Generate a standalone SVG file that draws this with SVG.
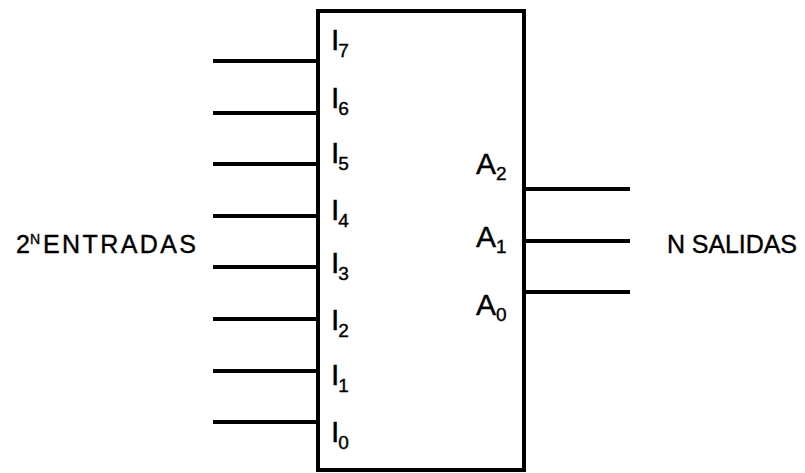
<svg xmlns="http://www.w3.org/2000/svg" width="805" height="473" viewBox="0 0 805 473">
  <style>
    .wire { stroke: #000; stroke-width: 4; fill: none; }
    .box { stroke: #000; stroke-width: 4; fill: #fff; }
    .lbl { font-family: "Liberation Sans", Arial, sans-serif; font-size: 30px; fill: #000; stroke: #000; stroke-width: 0.4; }
    .sub { font-size: 19px; }
    .side { font-family: "Liberation Sans", Arial, sans-serif; font-size: 25px; fill: #000; stroke: #000; stroke-width: 0.4; }
    .sup { font-size: 14px; }
  </style>
  <g id="encoder">
    <rect class="box" x="318" y="11" width="206" height="459"/>
    <text class="lbl" x="331" y="50">I<tspan class="sub" dx="-1" dy="7">7</tspan></text>
    <text class="lbl" x="331" y="108">I<tspan class="sub" dx="-1" dy="7">6</tspan></text>
    <text class="lbl" x="331" y="163">I<tspan class="sub" dx="-1" dy="7">5</tspan></text>
    <text class="lbl" x="331" y="220">I<tspan class="sub" dx="-1" dy="7">4</tspan></text>
    <text class="lbl" x="331" y="273">I<tspan class="sub" dx="-1" dy="7">3</tspan></text>
    <text class="lbl" x="331" y="330">I<tspan class="sub" dx="-1" dy="7">2</tspan></text>
    <text class="lbl" x="331" y="385">I<tspan class="sub" dx="-1" dy="7">1</tspan></text>
    <text class="lbl" x="331" y="442">I<tspan class="sub" dx="-1" dy="7">0</tspan></text>
    <text class="lbl" x="476" y="174">A<tspan class="sub" dy="6">2</tspan></text>
    <text class="lbl" x="476" y="247">A<tspan class="sub" dy="6">1</tspan></text>
    <text class="lbl" x="476" y="315">A<tspan class="sub" dy="6">0</tspan></text>
  </g>
  <g id="inputs-label">
    <text class="side" x="16" y="253">2<tspan class="sup" dy="-9">N</tspan></text>
    <text class="side" x="43" y="253" textLength="153" lengthAdjust="spacing">ENTRADAS</text>
  </g>
  <g id="outputs-label">
    <text class="side" x="667" y="253" textLength="130" lengthAdjust="spacing">N SALIDAS</text>
  </g>
  <g id="connectors">
    <line class="wire" x1="213" y1="61" x2="318" y2="61"/>
    <line class="wire" x1="213" y1="113" x2="318" y2="113"/>
    <line class="wire" x1="213" y1="164" x2="318" y2="164"/>
    <line class="wire" x1="213" y1="216" x2="318" y2="216"/>
    <line class="wire" x1="213" y1="267" x2="318" y2="267"/>
    <line class="wire" x1="213" y1="319" x2="318" y2="319"/>
    <line class="wire" x1="213" y1="371" x2="318" y2="371"/>
    <line class="wire" x1="213" y1="422" x2="318" y2="422"/>
    <line class="wire" x1="524" y1="189" x2="630" y2="189"/>
    <line class="wire" x1="524" y1="241" x2="630" y2="241"/>
    <line class="wire" x1="524" y1="292" x2="630" y2="292"/>
  </g>
</svg>
